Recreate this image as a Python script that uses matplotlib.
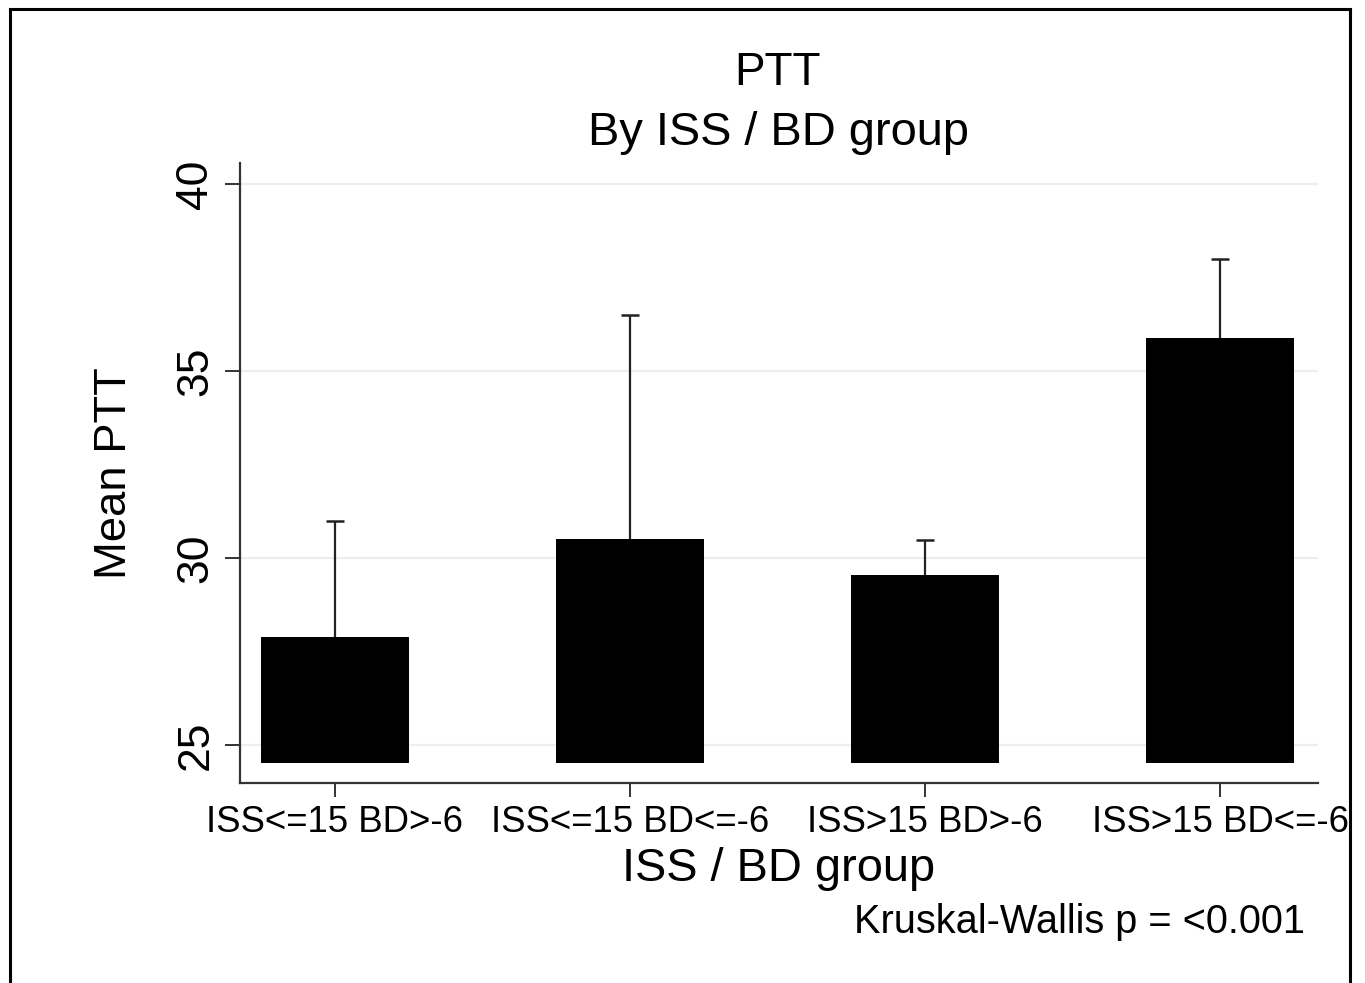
import matplotlib
matplotlib.use("Agg")
import matplotlib.pyplot as plt
from matplotlib.patches import Rectangle
from matplotlib.lines import Line2D

# values
groups = ["ISS<=15 BD>-6", "ISS<=15 BD<=-6", "ISS>15 BD>-6", "ISS>15 BD<=-6"]
mean_ptt = [27.88, 30.51, 29.55, 35.88]
upper_ci = [30.99, 36.50, 30.48, 37.99]
bar_base = 24.52
y_ticks = [25, 30, 35, 40]

plt.rcParams['font.family'] = ['Liberation Sans', 'DejaVu Sans']

W, H = 1365, 983
fig = plt.figure(figsize=(W / 100, H / 100), dpi=100)
fig.patch.set_facecolor("white")

ax = fig.add_axes([240 / W, 1 - 783 / H, (1318 - 240) / W, (783 - 163) / H])

x = list(range(len(groups)))
heights = [m - bar_base for m in mean_ptt]
ax.bar(x, heights, bottom=bar_base, width=0.5, color="black", zorder=3)
# upper whisker only, cap on top
cap = 0.03
ax.vlines(x, mean_ptt, upper_ci, color="#222222", linewidth=1.6, zorder=2)
ax.hlines(upper_ci, [i - cap for i in x], [i + cap for i in x],
          color="#222222", linewidth=1.8, zorder=2)

ax.set_xlim(-0.322, 3.332)
ax.set_ylim(23.98, 40.56)
ax.set_yticks(y_ticks)
ax.set_yticklabels([str(t) for t in y_ticks], rotation=90, va="center", fontsize=32)
ax.set_xticks(x)
ax.set_xticklabels(groups, fontsize=26.4)
ax.tick_params(axis="y", length=11, width=1.4, color="#333333", pad=6)
ax.tick_params(axis="x", length=10, width=1.4, color="#333333", pad=6)
ax.yaxis.grid(True, color="#eeeeee", linewidth=1.6, zorder=0)
ax.set_axisbelow(True)

for side in ["top", "right"]:
    ax.spines[side].set_visible(False)
for side in ["left", "bottom"]:
    ax.spines[side].set_color("#333333")
    ax.spines[side].set_linewidth(1.6)

ax.set_ylabel("Mean PTT", fontsize=32.7, labelpad=29)
ax.set_xlabel("ISS / BD group", fontsize=33.8, labelpad=5)

fig.text(778 / W, 1 - 73 / H, "PTT", ha="center", va="center", fontsize=33)
fig.text(778 / W, 1 - 133 / H, "By ISS / BD group", ha="center", va="center", fontsize=33.8)
fig.text(1305 / W, 1 - 922 / H, "Kruskal-Wallis p = <0.001", ha="right", va="center", fontsize=28.6)

# mask beyond the frame, then the frame itself
fig.add_artist(Rectangle((1351 / W, 0), 1 - 1351 / W, 1, transform=fig.transFigure,
                         facecolor="white", edgecolor="none", zorder=10))
frame_kw = dict(transform=fig.transFigure, color="black", linewidth=2.2, zorder=11)
fig.add_artist(Line2D([9.5 / W, 9.5 / W], [0, 1 - 8.5 / H], **frame_kw))
fig.add_artist(Line2D([9.5 / W, 1350 / W], [1 - 8.5 / H, 1 - 8.5 / H], **frame_kw))
fig.add_artist(Line2D([1350 / W, 1350 / W], [0, 1 - 8.5 / H], **frame_kw))

fig.savefig("out.png", dpi=100)
